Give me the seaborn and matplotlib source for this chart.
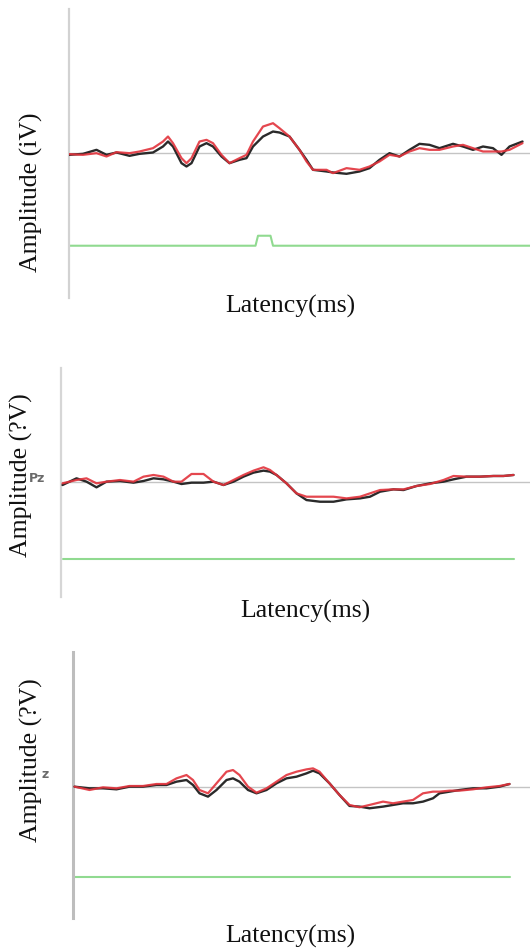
import numpy as np
import pandas as pd
import matplotlib
matplotlib.use("Agg")
import matplotlib.pyplot as plt
import seaborn as sns

# ---------------- data ----------------
# Panel 1 (latency in ms, amplitude in arbitrary µV units)
lat1 = [0, 28, 55, 75, 95, 121, 141, 168, 188, 198, 208, 225, 235, 245, 261, 275, 288,
        305, 321, 341, 355, 368, 388, 408, 421, 441, 461, 475, 488, 515, 528, 555, 581,
        601, 621, 641, 661, 681, 701, 721, 741, 768, 788, 808, 828, 848, 865, 881, 907]
black1 = [-0.5, -0.2, 1.0, -0.5, 0.2, -0.8, -0.2, 0.2, 2.0, 3.5, 2.0, -3.0, -4.0, -3.0, 2.0, 3.0, 2.0,
          -1.0, -3.0, -2.0, -1.5, 2.0, 5.0, 6.5, 6.2, 5.0, 1.0, -2.0, -5.0, -5.5, -5.8, -6.2, -5.5,
          -4.5, -2.0, 0.0, -1.0, 1.0, 2.8, 2.5, 1.5, 2.8, 2.0, 1.0, 2.0, 1.5, -0.5, 2.0, 3.5]
red1 = [-0.3, -0.5, 0.0, -1.0, 0.3, 0.0, 0.5, 1.5, 3.5, 5.0, 3.0, -1.5, -3.0, -1.5, 3.5, 4.0, 3.0,
        -0.5, -3.0, -1.5, -0.5, 3.5, 8.0, 9.0, 7.5, 5.0, 1.0, -2.5, -5.0, -5.0, -6.0, -4.5, -5.0,
        -4.0, -2.5, -0.5, -1.0, 0.5, 1.5, 1.0, 1.0, 2.0, 2.5, 1.5, 0.5, 0.5, 0.5, 1.0, 3.0]
trig1_lat = [0, 373, 378, 403, 408, 922]
trig1_amp = [-27.8, -27.8, -24.8, -24.8, -27.8, -27.8]

# Panel 2
lat2 = [3, 31, 51, 71, 91, 118, 145, 165, 185, 205, 225, 241, 261, 285, 305, 325, 345,
        365, 385, 405, 418, 431, 451, 471, 491, 518, 545, 571, 598, 618, 638, 665, 685,
        711, 738, 765, 785, 811, 838, 865, 885, 905]
black2 = [-1.0, 1.0, 0.0, -1.7, 0.0, 0.2, -0.3, 0.2, 1.0, 0.7, 0.0, -0.7, -0.3, -0.3, 0.0, -1.0, 0.0,
          1.5, 2.7, 3.3, 3.0, 2.0, -0.5, -3.5, -5.5, -6.0, -6.0, -5.3, -5.0, -4.5, -3.0, -2.3, -2.5,
          -1.3, -0.5, 0.0, 0.7, 1.5, 1.5, 1.7, 1.7, 2.0]
red2 = [-0.5, 0.5, 1.0, -0.5, 0.0, 0.5, 0.0, 1.5, 2.0, 1.5, 0.0, 0.0, 2.3, 2.3, 0.0, -1.0, 0.5,
        2.0, 3.3, 4.3, 3.5, 2.0, -0.5, -3.5, -4.5, -4.5, -4.5, -5.0, -4.5, -3.5, -2.5, -2.3, -2.3,
        -1.3, -0.7, 0.5, 1.7, 1.5, 1.5, 1.7, 1.7, 2.0]
trig2_lat = [3, 905]
trig2_amp = [-23.0, -23.0]

# Panel 3
lat3 = [3, 33, 60, 87, 113, 140, 167, 187, 207, 227, 240, 253, 270, 287, 307, 320, 333,
        350, 367, 387, 407, 427, 447, 467, 480, 493, 513, 533, 553, 573, 593, 620, 640,
        660, 680, 700, 720, 733, 753, 773, 800, 827, 853, 873]
black3 = [0.0, -0.5, -0.5, -0.8, 0.0, 0.0, 0.5, 0.5, 1.5, 2.0, 0.5, -2.0, -3.0, -1.0, 2.0, 2.5, 1.5,
          -1.0, -2.0, -1.0, 1.0, 2.5, 3.0, 4.0, 4.8, 4.0, 1.0, -2.5, -5.8, -6.0, -6.5, -6.0, -5.5,
          -5.0, -5.0, -4.5, -3.5, -2.0, -1.5, -1.0, -0.5, -0.5, 0.0, 0.8]
red3 = [0.0, -1.0, -0.2, -0.5, 0.2, 0.2, 0.8, 0.8, 2.5, 3.5, 2.0, -1.0, -2.0, 1.0, 4.5, 5.0, 3.5,
        0.0, -1.8, -0.5, 1.5, 3.5, 4.5, 5.2, 5.5, 4.5, 1.0, -2.5, -5.5, -6.2, -5.5, -4.5, -5.0,
        -4.5, -4.0, -2.0, -1.5, -1.5, -1.2, -1.2, -0.8, -0.2, 0.2, 0.8]
trig3_lat = [3, 873]
trig3_amp = [-27.3, -27.3]

x_label = "Latency(ms)"
y_labels = ["Amplitude (iV)", "Amplitude (?V)", "Amplitude (?V)"]
chan_labels = ["", "Pz", "z"]

# ---------------- style ----------------
sns.set_style("white")
plt.rcParams["font.family"] = ["Liberation Serif", "DejaVu Serif"]

W, H = 530, 951
fig = plt.figure(figsize=(W / 100, H / 100), dpi=100)

panels = [
    dict(lat=lat1, black=black1, red=red1, tl=trig1_lat, ta=trig1_amp,
         box=(69, 530, 9, 298), xmax=922, ylim=(-43.5, 43.3), sc="#d2d2d2", sw=1.6,
         ylab_xy=(31, 192), xlab_xy=(290, 306), chan_xy=None),
    dict(lat=lat2, black=black2, red=red2, tl=trig2_lat, ta=trig2_amp,
         box=(61, 530, 368, 597), xmax=938, ylim=(-34.5, 34.0), sc="#d6d6d6", sw=1.6,
         ylab_xy=(21, 475), xlab_xy=(305, 611), chan_xy=(37, 478)),
    dict(lat=lat3, black=black3, red=red3, tl=trig3_lat, ta=trig3_amp,
         box=(73, 530, 652, 918), xmax=914, ylim=(-39.5, 40.5), sc="#bdbdbd", sw=2.2,
         ylab_xy=(31, 760), xlab_xy=(290, 936), chan_xy=(45.5, 775)),
]

for i, p in enumerate(panels):
    l, r, t, b = p["box"]
    ax = fig.add_axes([l / W, (H - b) / H, (r - l) / W, (b - t) / H])
    ax.axhline(0, color="#c4c4c4", lw=1.0, zorder=1)
    sns.lineplot(x=p["tl"], y=p["ta"], ax=ax, color="#90da90", lw=1.5, zorder=2)
    sns.lineplot(x=p["lat"], y=p["black"], ax=ax, color="#2a2a2a", lw=1.7, zorder=3,
                 solid_joinstyle="round", solid_capstyle="round")
    sns.lineplot(x=p["lat"], y=p["red"], ax=ax, color="#e2333c", lw=1.6, alpha=0.9, zorder=4,
                 solid_joinstyle="round", solid_capstyle="round")
    ax.set_xlim(0, p["xmax"])
    ax.set_ylim(*p["ylim"])
    ax.set_xticks([])
    ax.set_yticks([])
    ax.set_xlabel("")
    ax.set_ylabel("")
    for s in ["top", "right", "bottom"]:
        ax.spines[s].set_visible(False)
    ax.spines["left"].set_color(p["sc"])
    ax.spines["left"].set_linewidth(p["sw"])
    ax.patch.set_alpha(0)

    yx, yy = p["ylab_xy"]
    fig.text(yx / W, 1 - yy / H, y_labels[i], rotation=90, ha="center", va="center",
             fontsize=18.5, color="#111111")
    xx, xy = p["xlab_xy"]
    fig.text(xx / W, 1 - xy / H, x_label, ha="center", va="center",
             fontsize=18.5, color="#111111")
    if p["chan_xy"] is not None:
        cx, cy = p["chan_xy"]
        fig.text(cx / W, 1 - cy / H, chan_labels[i], ha="center", va="center",
                 fontsize=9, color="#6a6a6a", fontweight="bold", family="DejaVu Sans")

fig.savefig("out.png", dpi=100)
